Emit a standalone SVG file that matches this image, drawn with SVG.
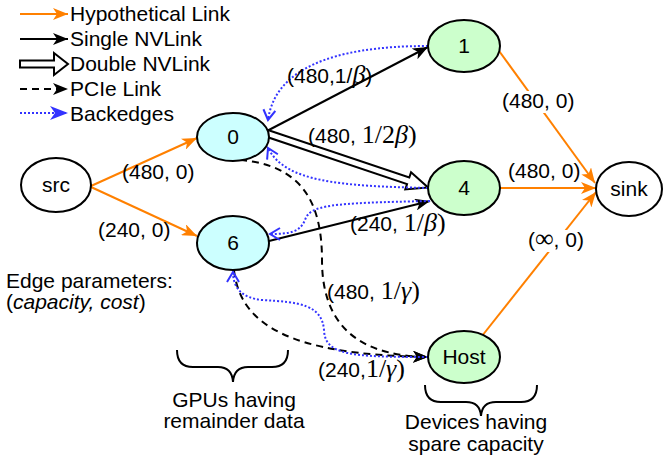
<svg xmlns="http://www.w3.org/2000/svg" width="663" height="464" viewBox="0 0 663 464">
<defs>
<style>
.t{font-family:"Liberation Sans",Arial,sans-serif;font-size:21px;fill:#000}
.n{font-family:"Liberation Sans",Arial,sans-serif;font-size:21px;fill:#000;text-anchor:middle}
.m{font-family:"Liberation Serif","DejaVu Serif",serif;font-size:26px}
.mi{font-family:"Liberation Serif","DejaVu Serif",serif;font-style:italic;font-size:26px}
.or{stroke:#ff8000;stroke-width:2;fill:none}
.bk{stroke:#000;stroke-width:2;fill:none}
.pc{stroke:#000;stroke-width:2;fill:none;stroke-dasharray:7 5}
.be{stroke:#3333ff;stroke-width:2;fill:none;stroke-dasharray:2 2}
.node{stroke:#000;stroke-width:2}
.gpu{fill:#ccffff}
.dev{fill:#ccffcc}
.wh{fill:#fff}
</style>
<marker id="ao" markerUnits="userSpaceOnUse" markerWidth="16" markerHeight="12" refX="15" refY="6" orient="auto">
<path d="M0,0 L15,6 L0,12 L4,6 Z" fill="#ff8000"/>
</marker>
<marker id="ab" markerUnits="userSpaceOnUse" markerWidth="16" markerHeight="12" refX="15" refY="6" orient="auto">
<path d="M0,0 L15,6 L0,12 L4,6 Z" fill="#000"/>
</marker>
<marker id="av" markerUnits="userSpaceOnUse" markerWidth="14" markerHeight="14" refX="11" refY="7" orient="auto">
<path d="M1,1 L11,7 L1,13" fill="none" stroke="#3333ff" stroke-width="2"/>
</marker>
<marker id="abl" markerUnits="userSpaceOnUse" markerWidth="20" markerHeight="14" refX="18" refY="7" orient="auto">
<path d="M0,0 L18,7 L0,14 L5,7 Z" fill="#3333ff"/>
</marker>
</defs>
<rect width="663" height="464" fill="#fff"/>

<g id="legend">
<line x1="20" y1="14" x2="68" y2="14" class="or" marker-end="url(#ao)"/>
<text class="t" x="70" y="21">Hypothetical Link</text>
<line x1="20" y1="39" x2="68" y2="39" class="bk" marker-end="url(#ab)"/>
<text class="t" x="70" y="46">Single NVLink</text>
<polygon points="20,60.5 54,60.5 54,53 68,64 54,75 54,67.5 20,67.5" fill="#fff" stroke="#000" stroke-width="2"/>
<text class="t" x="70" y="71">Double NVLink</text>
<line x1="20" y1="89" x2="68" y2="89" class="pc" stroke-width="3" stroke-dasharray="10 8" marker-end="url(#ab)"/>
<text class="t" x="70" y="96">PCIe Link</text>
<line x1="20" y1="113" x2="68" y2="113" class="be" stroke-width="3" marker-end="url(#abl)"/>
<text class="t" x="70" y="121">Backedges</text>
</g>

<g id="connectors">
<line x1="91" y1="186" x2="197" y2="138" class="or" marker-end="url(#ao)"/>
<line x1="91" y1="187" x2="197" y2="236" class="or" marker-end="url(#ao)"/>
<line x1="494" y1="44" x2="595" y2="183" class="or" marker-end="url(#ao)"/>
<line x1="499" y1="188" x2="596" y2="188" class="or" marker-end="url(#ao)"/>
<line x1="482" y1="336" x2="596" y2="192" class="or" marker-end="url(#ao)"/>
<line x1="265" y1="132" x2="428" y2="47" class="bk" marker-end="url(#ab)"/>
<line x1="265" y1="242" x2="430" y2="201" class="bk" marker-end="url(#ab)"/>
<g transform="translate(266,133) rotate(18.6)">
<polygon points="0,-3.5 150,-3.5 150,-9 171,0 150,9 150,3.5 0,3.5" fill="#fff" stroke="#000" stroke-width="2"/>
</g>
<path d="M 240,160 C 300,165 322,200 322,260 C 322,335 370,356 428,357" class="pc" marker-end="url(#ab)"/>
<path d="M 234,270 C 240,325 290,355 428,357" class="pc" marker-end="url(#ab)"/>
<path d="M 428,46 C 330,46 275,70 268,120" class="be" marker-end="url(#av)"/>
<path d="M 428,188 C 340,186 285,182 268,148" class="be" marker-end="url(#av)"/>
<path d="M 430,201 C 330,203 310,205 305,220 C 300,232 290,234 270,234" class="be" marker-end="url(#av)"/>
<path d="M 428,357 C 350,357 325,355 324,330 C 322,305 300,302 262,300 C 242,298 233,288 233,272" class="be" marker-end="url(#av)"/>
</g>

<g id="node-src"><ellipse cx="56" cy="185" rx="35" ry="27" class="node wh"/><text class="n" x="56" y="192">src</text></g>
<g id="node-0"><ellipse cx="233" cy="137" rx="36" ry="24" class="node gpu"/><text class="n" x="233" y="144">0</text></g>
<g id="node-6"><ellipse cx="233" cy="243" rx="36" ry="27" class="node gpu"/><text class="n" x="233" y="250">6</text></g>
<g id="node-1"><ellipse cx="464" cy="46" rx="36" ry="26" class="node dev"/><text class="n" x="464" y="53">1</text></g>
<g id="node-4"><ellipse cx="464" cy="188" rx="36" ry="27" class="node dev"/><text class="n" x="464" y="195">4</text></g>
<g id="node-host"><ellipse cx="464" cy="357" rx="36" ry="26" class="node dev"/><text class="n" x="464" y="364">Host</text></g>
<g id="node-sink"><ellipse cx="629" cy="189" rx="33" ry="27" class="node wh"/><text class="n" x="629" y="196">sink</text></g>

<g id="labels">
<text class="t" x="287" y="83">(480,1/<tspan class="mi" font-size="24">β</tspan>)</text>
<text class="t" x="308" y="143">(480, <tspan class="m">1/2</tspan><tspan class="mi">β</tspan><tspan class="m">)</tspan></text>
<text class="t" x="350" y="231">(240, <tspan class="m">1/</tspan><tspan class="mi">β</tspan><tspan class="m">)</tspan></text>
<text class="t" x="122" y="179">(480, 0)</text>
<text class="t" x="98" y="237">(240, 0)</text>
<rect x="501" y="91" width="70" height="22" fill="#fff"/>
<text class="t" x="502" y="108">(480, 0)</text>
<text class="t" x="508" y="178">(480, 0)</text>
<rect x="527" y="230" width="61" height="22" fill="#fff"/>
<text class="t" x="528" y="247">(<tspan class="m" font-size="24">∞</tspan>, 0)</text>
<text class="t" x="327" y="299">(480, <tspan class="m">1/</tspan><tspan class="mi">γ</tspan><tspan class="m">)</tspan></text>
<text class="t" x="318" y="377">(240,<tspan class="m">1/</tspan><tspan class="mi">γ</tspan><tspan class="m">)</tspan></text>
<text class="t" x="6" y="288">Edge parameters:</text>
<text class="t" x="6" y="309">(<tspan font-style="italic">capacity, cost</tspan>)</text>
<text class="t" x="234" y="407" text-anchor="middle">GPUs having</text>
<text class="t" x="234" y="428" text-anchor="middle">remainder data</text>
<text class="t" x="476" y="429" text-anchor="middle">Devices having</text>
<text class="t" x="476" y="451" text-anchor="middle">spare capacity</text>
</g>

<g id="braces" fill="none" stroke="#000" stroke-width="2">
<path d="M177,350 Q177,367 193,367 L218,367 Q232,367 233,382 Q234,367 248,367 L272,367 Q288,367 288,350"/>
<path d="M425,385 Q425,402 441,402 L466,402 Q480,402 481,416 Q482,402 496,402 L521,402 Q537,402 537,385"/>
</g>
</svg>
